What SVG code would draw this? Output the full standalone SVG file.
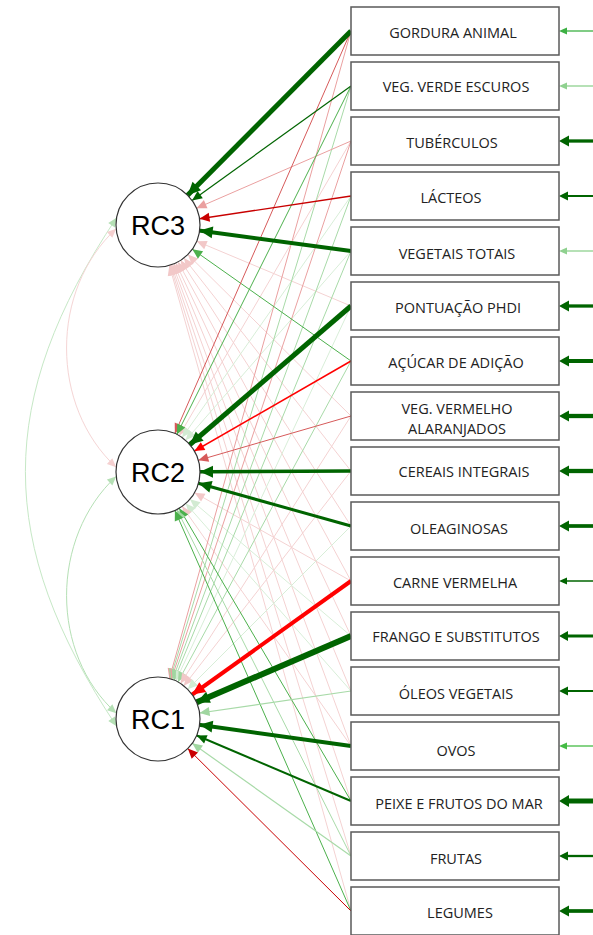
<svg xmlns="http://www.w3.org/2000/svg" width="593" height="935" viewBox="0 0 593 935">
<style>
.bg{fill:#fff}
.box{fill:#fff;stroke:#5a5a5a;stroke-width:1.5}
.lat{fill:#fff;stroke:#333;stroke-width:1.2}
.lbl{font-family:"Open Sans","Noto Sans",sans-serif;font-size:14.5px;fill:#222;text-anchor:middle}
.rc{font-family:"Liberation Sans",Arial,sans-serif;font-size:27px;fill:#000;text-anchor:middle}
.cv{fill:none;stroke-width:1}
.g{stroke:#006400}
.r{stroke:#ff0000}
.dr{stroke:#c80000}
.mr{stroke:#d65a5a}
.lr{stroke:#eaa0a0}
.fp{stroke:#f4d2d2}
.mg{stroke:#4cb04c}
.lg{stroke:#a8daa8}
.fg{stroke:#d8eed8}
.w1{stroke-width:1}
.fgG{fill:#006400}.fgM{fill:#3cb043}.fgL{fill:#8fd18f}.fgO{fill:#44bb44}
</style>
<defs>
<marker id="aGL" markerUnits="userSpaceOnUse" markerWidth="1" markerHeight="1" refX="42" refY="0" orient="auto" overflow="visible"><polygon points="0,0 -13,-6 -13,6" fill="#006400"/></marker>
<marker id="aGS" markerUnits="userSpaceOnUse" markerWidth="1" markerHeight="1" refX="42" refY="0" orient="auto" overflow="visible"><polygon points="0,0 -10,-4.5 -10,4.5" fill="#006400"/></marker>
<marker id="aRL" markerUnits="userSpaceOnUse" markerWidth="1" markerHeight="1" refX="42" refY="0" orient="auto" overflow="visible"><polygon points="0,0 -13,-6 -13,6" fill="#ff0000"/></marker>
<marker id="aRS" markerUnits="userSpaceOnUse" markerWidth="1" markerHeight="1" refX="42" refY="0" orient="auto" overflow="visible"><polygon points="0,0 -10,-4.5 -10,4.5" fill="#ff0000"/></marker>
<marker id="aDR" markerUnits="userSpaceOnUse" markerWidth="1" markerHeight="1" refX="42" refY="0" orient="auto" overflow="visible"><polygon points="0,0 -10,-4.5 -10,4.5" fill="#c80000"/></marker>
<marker id="aMR" markerUnits="userSpaceOnUse" markerWidth="1" markerHeight="1" refX="42" refY="0" orient="auto" overflow="visible"><polygon points="0,0 -10,-4.5 -10,4.5" fill="#d65a5a"/></marker>
<marker id="aLR" markerUnits="userSpaceOnUse" markerWidth="1" markerHeight="1" refX="42" refY="0" orient="auto" overflow="visible"><polygon points="0,0 -10,-4.5 -10,4.5" fill="#eaa0a0"/></marker>
<marker id="aFP" markerUnits="userSpaceOnUse" markerWidth="1" markerHeight="1" refX="42" refY="0" orient="auto" overflow="visible"><polygon points="0,0 -10,-4.5 -10,4.5" fill="#f2c8c8"/></marker>
<marker id="aMG" markerUnits="userSpaceOnUse" markerWidth="1" markerHeight="1" refX="42" refY="0" orient="auto" overflow="visible"><polygon points="0,0 -10,-4.5 -10,4.5" fill="#4cb04c"/></marker>
<marker id="aLG" markerUnits="userSpaceOnUse" markerWidth="1" markerHeight="1" refX="42" refY="0" orient="auto" overflow="visible"><polygon points="0,0 -10,-4.5 -10,4.5" fill="#a0d6a0"/></marker>
<marker id="aFG" markerUnits="userSpaceOnUse" markerWidth="1" markerHeight="1" refX="42" refY="0" orient="auto" overflow="visible"><polygon points="0,0 -10,-4.5 -10,4.5" fill="#d2ebd2"/></marker>
<marker id="cG" markerUnits="userSpaceOnUse" markerWidth="1" markerHeight="1" refX="0" refY="0" orient="auto-start-reverse" overflow="visible"><polygon points="0,0 -9,-4 -9,4" fill="#b5e0b5"/></marker>
<marker id="cP" markerUnits="userSpaceOnUse" markerWidth="1" markerHeight="1" refX="0" refY="0" orient="auto-start-reverse" overflow="visible"><polygon points="0,0 -9,-4 -9,4" fill="#f5d0d0"/></marker>
</defs>
<rect class="bg" x="0" y="0" width="593" height="935"/>

<g id="connectors">
  <!-- covariances -->
  <path class="cv" stroke="#c6e8c6" d="M116.6,217.7 C-5,400 -5,543 116.6,726.3" marker-start="url(#cG)" marker-end="url(#cG)"/>
  <path class="cv" stroke="#f5d5d5" d="M116.2,228.7 C50,290 50,406 116.2,467.3" marker-start="url(#cP)" marker-end="url(#cP)"/>
  <path class="cv" stroke="#b5e0b5" d="M116.2,476.4 C50,538 50,654 116.4,713.2" marker-start="url(#cG)" marker-end="url(#cG)"/>

  <!-- faint loadings -->
  <line class="fp w1" x1="351" y1="306" x2="158" y2="225" marker-end="url(#aFP)"/>
  <line class="fp w1" x1="351" y1="416" x2="158" y2="225" marker-end="url(#aFP)"/>
  <line class="fp w1" x1="351" y1="471" x2="158" y2="225" marker-end="url(#aFP)"/>
  <line class="fp w1" x1="351" y1="526" x2="158" y2="225" marker-end="url(#aFP)"/>
  <line class="fp w1" x1="351" y1="581" x2="158" y2="225" marker-end="url(#aFP)"/>
  <line class="fp w1" x1="351" y1="636" x2="158" y2="225" marker-end="url(#aFP)"/>
  <line class="fp w1" x1="351" y1="691" x2="158" y2="225" marker-end="url(#aFP)"/>
  <line class="fp w1" x1="351" y1="746" x2="158" y2="225" marker-end="url(#aFP)"/>
  <line class="fp w1" x1="351" y1="801" x2="158" y2="225" marker-end="url(#aFP)"/>
  <line class="fp w1" x1="351" y1="856" x2="158" y2="225" marker-end="url(#aFP)"/>
  <line class="fp w1" x1="351" y1="911" x2="158" y2="225" marker-end="url(#aFP)"/>

  <line class="fp w1" x1="351" y1="141" x2="158" y2="472" marker-end="url(#aFP)"/>
  <line class="fg w1" x1="351" y1="196" x2="158" y2="472" marker-end="url(#aFG)"/>
  <line class="fg w1" x1="351" y1="251" x2="158" y2="472" marker-end="url(#aFG)"/>
  <line class="fp w1" x1="351" y1="581" x2="158" y2="472" marker-end="url(#aFP)"/>
  <line class="fg w1" x1="351" y1="636" x2="158" y2="472" marker-end="url(#aFG)"/>
  <line class="fg w1" x1="351" y1="691" x2="158" y2="472" marker-end="url(#aFG)"/>
  <line class="fp w1" x1="351" y1="746" x2="158" y2="472" marker-end="url(#aFP)"/>

  <line class="lr w1" x1="351" y1="31" x2="158" y2="719" marker-end="url(#aLR)"/>
  <line class="lg w1" x1="351" y1="86" x2="158" y2="719" marker-end="url(#aLG)"/>
  <line class="lr w1" x1="351" y1="141" x2="158" y2="719" marker-end="url(#aLR)"/>
  <line class="lg w1" x1="351" y1="196" x2="158" y2="719" marker-end="url(#aLG)"/>
  <line class="lg w1" x1="351" y1="251" x2="158" y2="719" marker-end="url(#aLG)"/>
  <line class="fg w1" x1="351" y1="306" x2="158" y2="719" marker-end="url(#aFG)"/>
  <line class="lg w1" x1="351" y1="361" x2="158" y2="719" marker-end="url(#aLG)"/>
  <line class="fp w1" x1="351" y1="416" x2="158" y2="719" marker-end="url(#aFP)"/>
  <line class="fp w1" x1="351" y1="471" x2="158" y2="719" marker-end="url(#aFP)"/>
  <line class="fg w1" x1="351" y1="526" x2="158" y2="719" marker-end="url(#aFG)"/>

  <!-- moderate loadings -->
  <line class="lr w1" x1="351" y1="141" x2="158" y2="225" marker-end="url(#aLR)"/>
  <line class="mg w1" x1="351" y1="361" x2="158" y2="225" marker-end="url(#aMG)"/>
  <line class="mr w1" x1="351" y1="31" x2="158" y2="472" marker-end="url(#aMR)"/>
  <line class="mg w1" x1="351" y1="86" x2="158" y2="472" marker-end="url(#aMG)"/>
  <line class="mr w1" x1="351" y1="416" x2="158" y2="472" marker-end="url(#aMR)"/>
  <line class="mg w1" x1="351" y1="801" x2="158" y2="472" marker-end="url(#aMG)"/>
  <line class="lg w1" x1="351" y1="856" x2="158" y2="472" marker-end="url(#aLG)"/>
  <line class="mg w1" x1="351" y1="911" x2="158" y2="472" marker-end="url(#aMG)"/>
  <line class="lg" stroke-width="1.2" x1="351" y1="691" x2="158" y2="719" marker-end="url(#aLG)"/>
  <line class="lg" stroke-width="1.2" x1="351" y1="856" x2="158" y2="719" marker-end="url(#aLG)"/>
  <line class="dr w1" x1="351" y1="911" x2="158" y2="719" marker-end="url(#aDR)"/>

  <!-- strong loadings -->
  <line class="g" stroke-width="5" x1="351" y1="31" x2="158" y2="225" marker-end="url(#aGL)"/>
  <line class="g" stroke-width="1.2" x1="351" y1="86" x2="158" y2="225" marker-end="url(#aGS)"/>
  <line class="dr" stroke-width="1.3" x1="351" y1="196" x2="158" y2="225" marker-end="url(#aDR)"/>
  <line class="g" stroke-width="4" x1="351" y1="251" x2="158" y2="225" marker-end="url(#aGL)"/>
  <line class="g" stroke-width="5" x1="351" y1="306" x2="158" y2="472" marker-end="url(#aGL)"/>
  <line class="r" stroke-width="1.5" x1="351" y1="361" x2="158" y2="472" marker-end="url(#aRS)"/>
  <line class="g" stroke-width="3.5" x1="351" y1="471" x2="158" y2="472" marker-end="url(#aGL)"/>
  <line class="g" stroke-width="3" x1="351" y1="526" x2="158" y2="472" marker-end="url(#aGL)"/>
  <line class="r" stroke-width="4" x1="351" y1="581" x2="158" y2="719" marker-end="url(#aRL)"/>
  <line class="g" stroke-width="6" x1="351" y1="636" x2="158" y2="719" marker-end="url(#aGL)"/>
  <line class="g" stroke-width="4" x1="351" y1="746" x2="158" y2="719" marker-end="url(#aGL)"/>
  <line class="g" stroke-width="2" x1="351" y1="801" x2="158" y2="719" marker-end="url(#aGS)"/>

  <!-- residuals -->
  <line stroke="#3cb043" stroke-width="1.3" x1="593" y1="31" x2="565" y2="31"/><polygon class="fgM" points="559,31 567,27.5 567,34.5"/>
  <line stroke="#8fd18f" stroke-width="1.3" x1="593" y1="86" x2="565" y2="86"/><polygon class="fgL" points="559,86 567,82.5 567,89.5"/>
  <line class="g" stroke-width="3.3" x1="593" y1="141" x2="566" y2="141"/><polygon class="fgG" points="559,141 569,135.5 569,146.5"/>
  <line class="g" stroke-width="2" x1="593" y1="196" x2="566" y2="196"/><polygon class="fgG" points="559,196 568,191.5 568,200.5"/>
  <line stroke="#8fd18f" stroke-width="1.3" x1="593" y1="251" x2="565" y2="251"/><polygon class="fgL" points="559,251 567,247.5 567,254.5"/>
  <line class="g" stroke-width="3.3" x1="593" y1="306" x2="566" y2="306"/><polygon class="fgG" points="559,306 569,300.5 569,311.5"/>
  <line class="g" stroke-width="4" x1="593" y1="361" x2="566" y2="361"/><polygon class="fgG" points="559,361 569,355.5 569,366.5"/>
  <line class="g" stroke-width="4.3" x1="593" y1="416" x2="566" y2="416"/><polygon class="fgG" points="559,416 569,410.5 569,421.5"/>
  <line class="g" stroke-width="4.3" x1="593" y1="471" x2="566" y2="471"/><polygon class="fgG" points="559,471 569,465.5 569,476.5"/>
  <line class="g" stroke-width="3.7" x1="593" y1="526" x2="566" y2="526"/><polygon class="fgG" points="559,526 569,520.5 569,531.5"/>
  <line class="g" stroke-width="1.5" x1="593" y1="581" x2="565" y2="581"/><polygon class="fgG" points="559,581 567,577.5 567,584.5"/>
  <line class="g" stroke-width="3" x1="593" y1="636" x2="566" y2="636"/><polygon class="fgG" points="559,636 568,631 568,641"/>
  <line class="g" stroke-width="2" x1="593" y1="691" x2="566" y2="691"/><polygon class="fgG" points="559,691 568,686.5 568,695.5"/>
  <line stroke="#44bb44" stroke-width="1.3" x1="593" y1="746" x2="565" y2="746"/><polygon class="fgO" points="559,746 567,742.5 567,749.5"/>
  <line class="g" stroke-width="5" x1="593" y1="801" x2="566" y2="801"/><polygon class="fgG" points="559,801 569,795 569,807"/>
  <line class="g" stroke-width="2.3" x1="593" y1="856" x2="566" y2="856"/><polygon class="fgG" points="559,856 568,851.5 568,860.5"/>
  <line class="g" stroke-width="3.7" x1="593" y1="911" x2="566" y2="911"/><polygon class="fgG" points="559,911 569,905.5 569,916.5"/>
</g>

<g id="RC3"><circle class="lat" cx="158" cy="225" r="42"/><text class="rc" x="158" y="235">RC3</text></g>
<g id="RC2"><circle class="lat" cx="158" cy="472" r="42"/><text class="rc" x="158" y="482">RC2</text></g>
<g id="RC1"><circle class="lat" cx="158" cy="719" r="42"/><text class="rc" x="158" y="729">RC1</text></g>

<g id="gordura_animal"><rect class="box" x="351" y="7" width="208" height="48"/><text class="lbl" x="453" y="38">GORDURA ANIMAL</text></g>
<g id="veg_verde_escuros"><rect class="box" x="351" y="62" width="208" height="48"/><text class="lbl" x="456" y="92">VEG. VERDE ESCUROS</text></g>
<g id="tuberculos"><rect class="box" x="351" y="117" width="208" height="48"/><text class="lbl" x="452" y="148">TUBÉRCULOS</text></g>
<g id="lacteos"><rect class="box" x="351" y="172" width="208" height="48"/><text class="lbl" x="451" y="203">LÁCTEOS</text></g>
<g id="vegetais_totais"><rect class="box" x="351" y="227" width="208" height="48"/><text class="lbl" x="457" y="259">VEGETAIS TOTAIS</text></g>
<g id="pontuacao_phdi"><rect class="box" x="351" y="282" width="208" height="48"/><text class="lbl" x="458" y="313">PONTUAÇÃO PHDI</text></g>
<g id="acucar_de_adicao"><rect class="box" x="351" y="337" width="208" height="48"/><text class="lbl" x="456" y="368">AÇÚCAR DE ADIÇÃO</text></g>
<g id="veg_vermelho_alaranjados"><rect class="box" x="351" y="392" width="208" height="48"/><text class="lbl" x="457" y="414">VEG. VERMELHO</text><text class="lbl" x="457" y="434">ALARANJADOS</text></g>
<g id="cereais_integrais"><rect class="box" x="351" y="447" width="208" height="48"/><text class="lbl" x="464" y="477">CEREAIS INTEGRAIS</text></g>
<g id="oleaginosas"><rect class="box" x="351" y="502" width="208" height="48"/><text class="lbl" x="459" y="534">OLEAGINOSAS</text></g>
<g id="carne_vermelha"><rect class="box" x="351" y="557" width="208" height="48"/><text class="lbl" x="455" y="588">CARNE VERMELHA</text></g>
<g id="frango_e_substitutos"><rect class="box" x="351" y="612" width="208" height="48"/><text class="lbl" x="456" y="642">FRANGO E SUBSTITUTOS</text></g>
<g id="oleos_vegetais"><rect class="box" x="351" y="667" width="208" height="48"/><text class="lbl" x="456" y="699">ÓLEOS VEGETAIS</text></g>
<g id="ovos"><rect class="box" x="351" y="722" width="208" height="48"/><text class="lbl" x="456" y="756">OVOS</text></g>
<g id="peixe_e_frutos_do_mar"><rect class="box" x="351" y="777" width="208" height="48"/><text class="lbl" x="459" y="809">PEIXE E FRUTOS DO MAR</text></g>
<g id="frutas"><rect class="box" x="351" y="832" width="208" height="48"/><text class="lbl" x="456" y="864">FRUTAS</text></g>
<g id="legumes"><rect class="box" x="351" y="887" width="208" height="48"/><text class="lbl" x="460" y="918">LEGUMES</text></g>
</svg>
